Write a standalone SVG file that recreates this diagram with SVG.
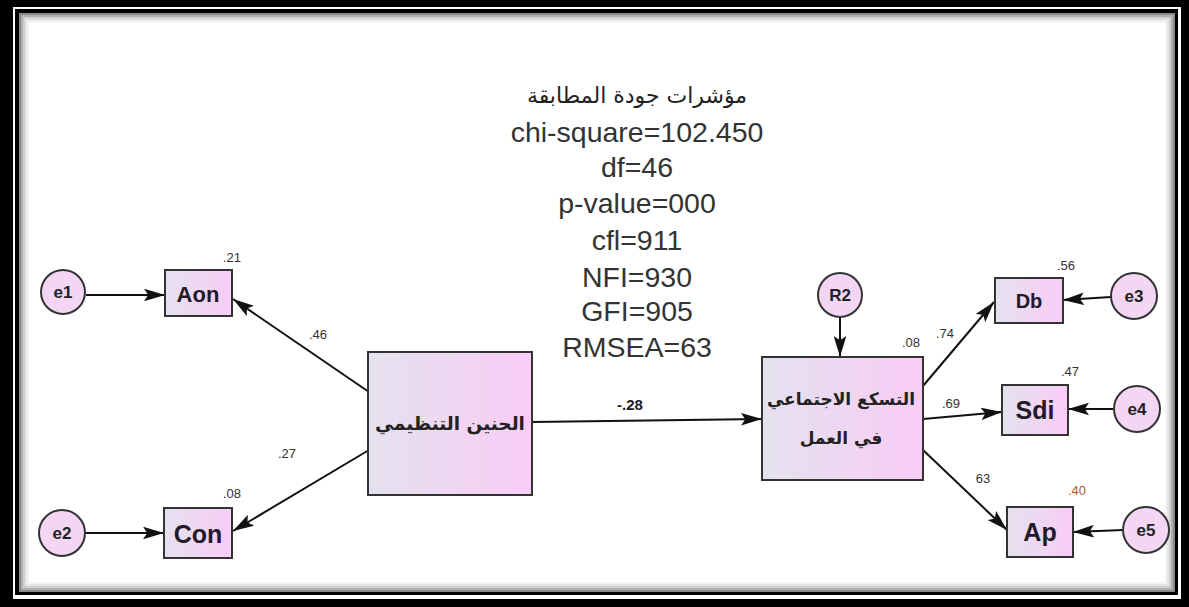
<svg xmlns="http://www.w3.org/2000/svg" width="1189" height="607" viewBox="0 0 1189 607">
<defs>
<linearGradient id="boxg" x1="0" y1="0" x2="1" y2="0">
<stop offset="0" stop-color="#e4e2ee"/>
<stop offset="1" stop-color="#f9ccf6"/>
</linearGradient>
<marker id="ah" viewBox="0 0 20 12" refX="20" refY="6" markerWidth="21" markerHeight="13" markerUnits="userSpaceOnUse" orient="auto">
<path d="M0,0 L20,6 L0,12 L4,6 Z" fill="#111"/>
</marker>
<style>
.box{fill:url(#boxg);stroke:#333;stroke-width:2}
.err{fill:#f3d6f3;stroke:#333;stroke-width:2}
.nt{font-family:"Liberation Sans",Arial,sans-serif;font-weight:bold;fill:#221a2a;text-anchor:middle}
.et{font-family:"Liberation Sans",Arial,sans-serif;font-weight:bold;font-size:17px;fill:#222;text-anchor:middle}
.ar{font-family:"DejaVu Sans",sans-serif;font-weight:bold;fill:#222;text-anchor:middle}
.lb{font-family:"Liberation Sans",Arial,sans-serif;font-size:13px;fill:#333;text-anchor:middle}
.fit{font-family:"Liberation Sans",Arial,sans-serif;font-size:28.5px;fill:#333;text-anchor:middle}
.cn{stroke:#111;stroke-width:2;fill:none;marker-end:url(#ah)}
</style>
</defs>
<rect x="0" y="0" width="1189" height="607" fill="#000"/>
<rect x="13" y="7" width="1168" height="592" fill="#fff"/>
<rect x="15" y="9" width="1163" height="586" fill="#000"/>
<rect x="19" y="13" width="1156" height="579" fill="#fff"/>
<rect x="20" y="14" width="1154" height="577" fill="none" stroke="#8a8a8a" stroke-width="2"/>
<rect x="22" y="16" width="1150" height="573" fill="none" stroke="#b0b0b0" stroke-width="2"/>
<rect x="24" y="18" width="1146" height="569" fill="none" stroke="#d0d0d0" stroke-width="2"/>
<rect x="26" y="20" width="1142" height="565" fill="none" stroke="#e6e6e6" stroke-width="2"/>
<rect x="28" y="22" width="1138" height="561" fill="none" stroke="#f4f4f4" stroke-width="2"/>

<g id="fit-indices">
<text class="ar" x="637" y="103" font-size="22" style="font-weight:normal">مؤشرات جودة المطابقة</text>
<text class="fit" x="637" y="142">chi-square=102.450</text>
<text class="fit" x="637" y="177">df=46</text>
<text class="fit" x="637" y="213">p-value=000</text>
<text class="fit" x="637" y="250">cfl=911</text>
<text class="fit" x="637" y="287">NFI=930</text>
<text class="fit" x="637" y="321">GFI=905</text>
<text class="fit" x="637" y="357">RMSEA=63</text>
</g>

<g id="connectors">
<line class="cn" x1="86" y1="295" x2="165" y2="295"/>
<line class="cn" x1="86" y1="533" x2="164" y2="533"/>
<line class="cn" x1="369" y1="392" x2="233" y2="299"/>
<line class="cn" x1="369" y1="450" x2="233" y2="531"/>
<line class="cn" x1="532" y1="422" x2="762" y2="419"/>
<line class="cn" x1="840" y1="317" x2="840" y2="357"/>
<line class="cn" x1="923" y1="386" x2="994" y2="302"/>
<line class="cn" x1="923" y1="419" x2="1002" y2="412"/>
<line class="cn" x1="923" y1="450" x2="1007" y2="530"/>
<line class="cn" x1="1111" y1="297" x2="1063" y2="300"/>
<line class="cn" x1="1114" y1="409" x2="1068" y2="409"/>
<line class="cn" x1="1123" y1="530" x2="1073" y2="532"/>
<text class="lb" x="318" y="339">.46</text>
<text class="lb" x="287" y="458">.27</text>
<text class="nt" x="630" y="410" font-size="15" direction="ltr" unicode-bidi="bidi-override">-.28</text>
<text class="lb" x="945" y="338">.74</text>
<text class="lb" x="951" y="408">.69</text>
<text class="lb" x="983" y="483">63</text>
</g>

<g id="e1"><circle class="err" cx="63" cy="292" r="22"/><text class="et" x="63" y="298">e1</text></g>
<g id="e2"><circle class="err" cx="62" cy="533" r="23"/><text class="et" x="62" y="539">e2</text></g>
<g id="Aon"><rect class="box" x="165" y="270" width="67" height="46"/><text class="nt" x="198" y="302" font-size="22">Aon</text><text class="lb" x="232" y="262">.21</text></g>
<g id="Con"><rect class="box" x="164" y="508" width="68" height="50"/><text class="nt" x="198" y="543" font-size="25">Con</text><text class="lb" x="232" y="498">.08</text></g>
<g id="hanin"><rect class="box" x="368" y="352" width="164" height="143"/><text class="ar" x="450" y="430" font-size="18.5">الحنين التنظيمي</text></g>
<g id="R2"><circle class="err" cx="840" cy="295" r="22"/><text class="et" x="840" y="301">R2</text></g>
<g id="tasakku"><rect class="box" x="762" y="357" width="161" height="123"/><text class="ar" x="841" y="405" font-size="17">التسكع الاجتماعي</text><text class="ar" x="841" y="444" font-size="17">في العمل</text><text class="lb" x="911" y="347">.08</text></g>
<g id="Db"><rect class="box" x="995" y="278" width="68" height="45"/><text class="nt" x="1029" y="308" font-size="20">Db</text><text class="lb" x="1066" y="270">.56</text></g>
<g id="Sdi"><rect class="box" x="1002" y="385" width="66" height="50"/><text class="nt" x="1035" y="419" font-size="25">Sdi</text><text class="lb" x="1070" y="376">.47</text></g>
<g id="Ap"><rect class="box" x="1007" y="507" width="66" height="50"/><text class="nt" x="1040" y="541" font-size="25">Ap</text><text class="lb" x="1077" y="495" style="fill:#b05a2a">.40</text></g>
<g id="e3"><circle class="err" cx="1134" cy="296" r="23"/><text class="et" x="1134" y="302">e3</text></g>
<g id="e4"><circle class="err" cx="1137" cy="409" r="23"/><text class="et" x="1137" y="415">e4</text></g>
<g id="e5"><circle class="err" cx="1146" cy="530" r="23"/><text class="et" x="1146" y="536">e5</text></g>
</svg>
